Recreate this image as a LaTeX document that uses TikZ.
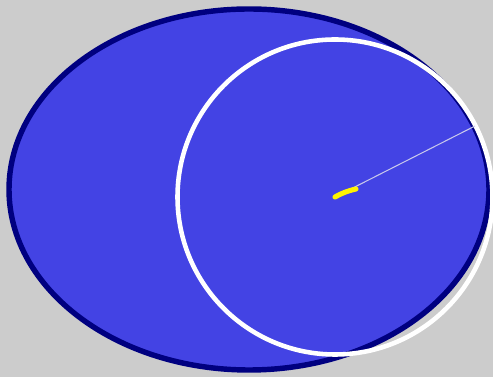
\documentclass[tikz,border=0pt]{standalone}
\usepackage{xcolor}
\usepackage{tikz}

\definecolor{bgGray}{RGB}{204,204,204}
\definecolor{oval}{RGB}{67,67,228}
\definecolor{ovalEdge}{RGB}{0,0,128}
\definecolor{radLine}{RGB}{200,200,235}

\begin{document}
\begin{tikzpicture}[x=0.02cm, y=-0.02cm,
    outer/.style={draw=ovalEdge, fill=oval, line width=3.1pt},
    ring/.style={draw=white, line width=2.6pt},
    spoke/.style={draw=radLine, line width=0.6pt},
    mark line/.style={draw=yellow, line width=2.9pt, line cap=round}]

% Background
\fill[bgGray] (0,0) rectangle (493,377);
\useasboundingbox (0,0) rectangle (493,377);

% Centres
\coordinate (oc) at (249,189.5);
\coordinate (cc) at (335,197);
\coordinate (rim) at (475,126);
\coordinate (tip) at (356,189);

% Large oval
\path[outer] (oc) ellipse [x radius=240, y radius=180.5];

% Circle with its radius
\path[ring] (cc) circle [radius=157.5];
\draw[spoke] (cc) -- (rim);
\draw[mark line] (cc) to[bend left=8] (tip);

\end{tikzpicture}
\end{document}
